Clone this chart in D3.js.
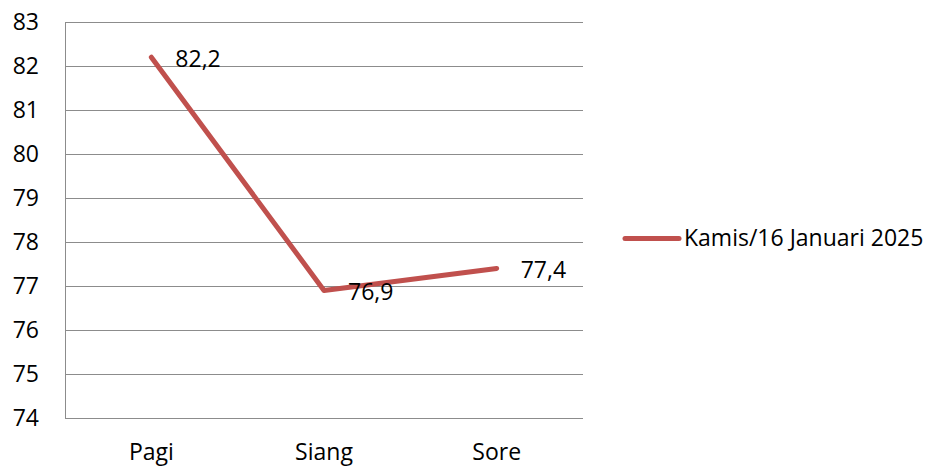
<!DOCTYPE html>
<html>
<head>
<meta charset="utf-8">
<script src="https://cdn.jsdelivr.net/npm/d3@7"></script>
<style>
  html, body { margin: 0; padding: 0; background: #fff; }
  svg text { font-family: "Open Sans", sans-serif; fill: #000; }
</style>
</head>
<body>
<svg id="chart" width="934" height="474"></svg>
<script>
// Readings for one day, three times of day
const categories = ["Pagi", "Siang", "Sore"];
const values = [82.2, 76.9, 77.4];
const seriesName = "Kamis/16 Januari 2025";
const yTicks = [74, 75, 76, 77, 78, 79, 80, 81, 82, 83];

const svg = d3.select("#chart");
const plot = { left: 65, right: 583, top: 22, bottom: 418 };
const lineColor = "#C0504D";
const fontSize = 23;
const font = "'Open Sans', sans-serif";

const x = d3.scaleBand().domain(categories).range([plot.left, plot.right]);
const y = d3.scaleLinear().domain([74, 83]).range([plot.bottom, plot.top]);

// Horizontal gridlines
svg.append("g")
  .selectAll("line")
  .data(yTicks)
  .join("line")
  .attr("x1", plot.left)
  .attr("x2", plot.right)
  .attr("y1", d => Math.round(y(d)) + 0.5)
  .attr("y2", d => Math.round(y(d)) + 0.5)
  .attr("stroke", "#8c8c8c")
  .attr("stroke-width", 1);

// Left axis line
svg.append("line")
  .attr("x1", plot.left + 0.5).attr("x2", plot.left + 0.5)
  .attr("y1", plot.top).attr("y2", plot.bottom)
  .attr("stroke", "#8c8c8c").attr("stroke-width", 1);

// Y axis labels
const yAxis = d3.axisLeft(y).tickValues(yTicks).tickSize(0).tickPadding(26);
const yG = svg.append("g").attr("transform", `translate(${plot.left},0)`).call(yAxis);
yG.select(".domain").remove();
yG.selectAll("text").attr("font-size", fontSize).attr("font-family", font).attr("fill", "#000");

// X axis labels
const xAxis = d3.axisBottom(x).tickSize(0).tickPadding(26);
const xG = svg.append("g").attr("transform", `translate(0,${plot.bottom})`).call(xAxis);
xG.select(".domain").remove();
xG.selectAll("text").attr("font-size", fontSize).attr("font-family", font).attr("fill", "#000");

// Series line
const cx = d => x(d) + x.bandwidth() / 2;
const pts = categories.map((c, i) => [cx(c), y(values[i])]);
svg.append("path")
  .attr("d", d3.line()(pts))
  .attr("fill", "none")
  .attr("stroke", lineColor)
  .attr("stroke-width", 5)
  .attr("stroke-linecap", "round")
  .attr("stroke-linejoin", "round");

// Data labels, to the right of each point
svg.append("g")
  .selectAll("text")
  .data(categories)
  .join("text")
  .attr("x", c => cx(c) + 24)
  .attr("y", (c, i) => y(values[i]) + 9.5)
  .attr("font-size", fontSize)
  .text((c, i) => values[i].toFixed(1).replace(".", ","));

// Legend
const legY = 238.5;
svg.append("line")
  .attr("x1", 625).attr("x2", 679)
  .attr("y1", legY).attr("y2", legY)
  .attr("stroke", lineColor).attr("stroke-width", 5)
  .attr("stroke-linecap", "round");
svg.append("text")
  .attr("x", 684).attr("y", 246)
  .attr("font-size", fontSize)
  .text(seriesName);
</script>
</body>
</html>
